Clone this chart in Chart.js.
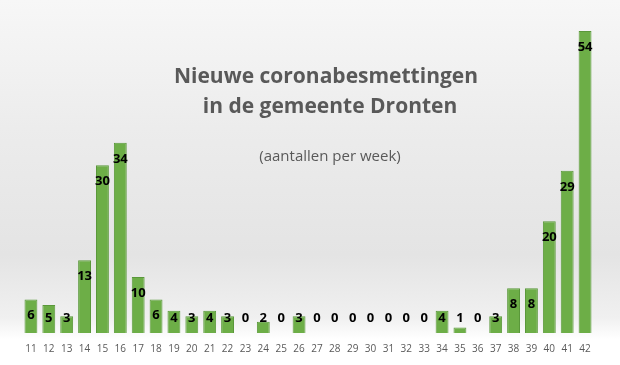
<!DOCTYPE html>
<html>
<head>
<meta charset="utf-8">
<script src="https://cdn.jsdelivr.net/npm/chart.js@4"></script>
<style>
  html, body { margin: 0; padding: 0; }
  body {
    width: 620px; height: 365px; overflow: hidden;
    background: linear-gradient(to bottom, #f7f7f7 0%, #ececec 35%, #e4e4e4 70%, #f0f0f0 87%, #ffffff 93%, #ffffff 100%);
  }
  #wrap { width: 620px; height: 365px; position: relative; }
</style>
</head>
<body>
<div id="wrap"><canvas id="grafiek"></canvas></div>
<script>
// weeknummers en aantallen
const weken = ['11','12','13','14','15','16','17','18','19','20','21','22','23','24','25','26',
               '27','28','29','30','31','32','33','34','35','36','37','38','39','40','41','42'];
const besmettingen = [6,5,3,13,30,34,10,6,4,3,4,3,0,2,0,3,
                      0,0,0,0,0,0,0,4,1,0,3,8,8,20,29,54];

const titelRegels = ['Nieuwe coronabesmettingen', 'in de gemeente Dronten'];
const ondertitel = '(aantallen per week)';

// titel in het grafiekvlak tekenen
const titelPlugin = {
  id: 'titel',
  beforeDatasetsDraw(chart) {
    const c = chart.ctx;
    c.save();
    c.fillStyle = '#595959';
    c.textAlign = 'center';
    c.textBaseline = 'middle';
    c.font = 'bold 21px "Open Sans", sans-serif';
    c.fillText(titelRegels[0], 326, 77);
    c.fillText(titelRegels[1], 330, 107);
    c.font = '15px "Open Sans", sans-serif';
    c.fillText(ondertitel, 330, 157);
    c.restore();
  }
};

// waarden bovenin de balk
const labelPlugin = {
  id: 'labels',
  afterDatasetsDraw(chart) {
    const c = chart.ctx;
    const meta = chart.getDatasetMeta(0);
    const basis = chart.scales.y.getPixelForValue(0);
    c.save();
    c.fillStyle = '#000';
    c.textAlign = 'center';
    c.textBaseline = 'middle';
    c.font = 'bold 13px "Open Sans", sans-serif';
    meta.data.forEach((bar, i) => {
      const y = Math.min(bar.y + 16, basis - 15);
      c.fillText(String(besmettingen[i]), bar.x, y);
    });
    c.restore();
  }
};

new Chart(document.getElementById('grafiek'), {
  type: 'bar',
  data: {
    labels: weken,
    datasets: [{
      data: besmettingen,
      backgroundColor: '#6dae47',
      borderColor: '#5a983a',
      borderWidth: 1,
      barPercentage: 0.72,
      categoryPercentage: 1
    }]
  },
  options: {
    responsive: true,
    maintainAspectRatio: false,
    animation: false,
    layout: { padding: { left: 22, right: 26, top: 31, bottom: 8 } },
    plugins: {
      legend: { display: false },
      tooltip: { enabled: false }
    },
    scales: {
      x: {
        grid: { display: false },
        border: { display: false },
        ticks: {
          color: '#595959',
          font: { size: 10, family: '"Open Sans", sans-serif' },
          padding: 2,
          maxRotation: 0,
          autoSkip: false
        }
      },
      y: {
        display: false,
        min: 0,
        max: 54
      }
    }
  },
  plugins: [titelPlugin, labelPlugin]
});
</script>
</body>
</html>
